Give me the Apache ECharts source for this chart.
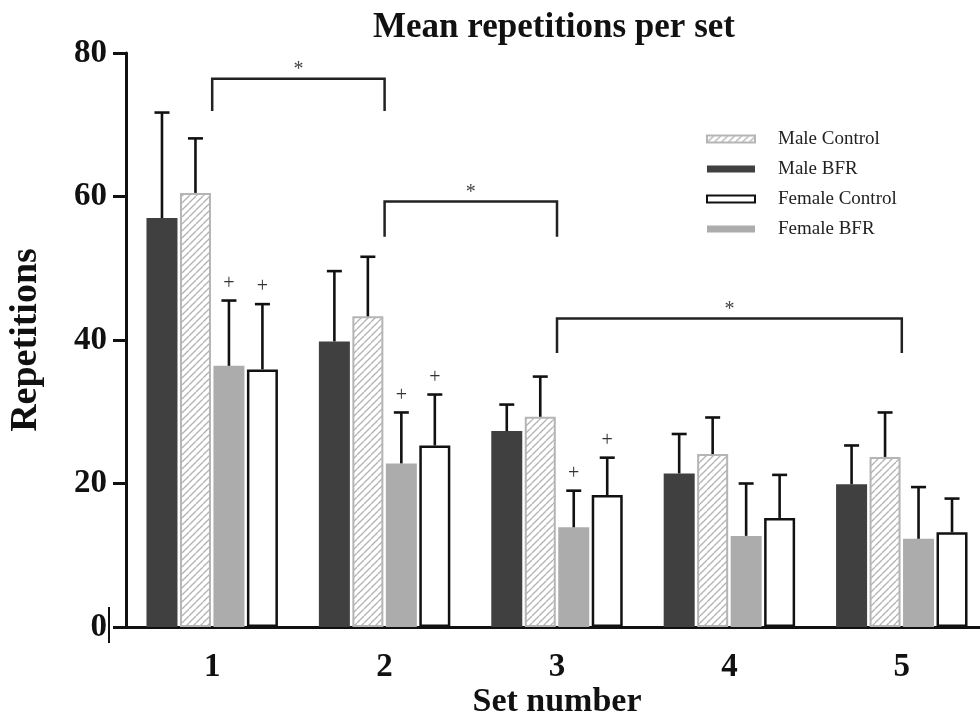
<!DOCTYPE html>
<html>
<head>
<meta charset="utf-8">
<title>Mean repetitions per set</title>
<script src="https://cdn.jsdelivr.net/npm/echarts/dist/echarts.min.js"></script>
<style>
  html, body { margin: 0; padding: 0; background: #fff; }
  #chart { width: 980px; height: 721px; }
</style>
</head>
<body>
<div id="chart"></div>
<script>
// 数据：每组的均值和标准差（只画向上的误差线）
const setNumbers = ['1', '2', '3', '4', '5']
const maleBFR = [57.0, 39.8, 27.3, 21.4, 19.9]
const maleBFRSd = [14.7, 9.8, 3.7, 5.5, 5.4]
const maleControl = [60.5, 43.3, 29.3, 24.1, 23.7]
const maleControlSd = [7.6, 8.3, 5.6, 5.1, 6.2]
const femaleBFR = [36.4, 22.8, 13.9, 12.7, 12.3]
const femaleBFRSd = [9.1, 7.1, 5.1, 7.3, 7.2]
const femaleControl = [35.9, 25.3, 18.4, 15.2, 13.2]
const femaleControlSd = [9.1, 7.1, 5.2, 6.0, 4.7]
// "+" 标记（1 = 有）
const femaleBFRPlus = [1, 1, 1, 0, 0]
const femaleControlPlus = [1, 1, 1, 0, 0]
// 显著性括号：[起始组, 结束组, 横线高度, 竖线下端]
const brackets = [
  [0, 1, 76.4, 71.9],
  [1, 2, 59.3, 54.4],
  [2, 4, 43.0, 38.2]
]
const yTicks = [0, 20, 40, 60, 80]

const SERIF = '"Liberation Serif", "Times New Roman", serif'
const BAR_W = 31
const BAR_PITCH = BAR_W * 1.08

// 斜线填充图案
function makeHatch() {
  const c = document.createElement('canvas')
  c.width = 7
  c.height = 7
  const ctx = c.getContext('2d')
  ctx.fillStyle = '#ffffff'
  ctx.fillRect(0, 0, 7, 7)
  ctx.strokeStyle = '#b3b3b3'
  ctx.lineWidth = 1.3
  for (const k of [-7, 0, 7]) {
    ctx.beginPath()
    ctx.moveTo(k, 7)
    ctx.lineTo(k + 7, 0)
    ctx.stroke()
  }
  return c
}

// 误差线数据：[组, 均值, 标准差, 柱序号, 是否有+]
const groups = [
  [maleBFR, maleBFRSd, null],
  [maleControl, maleControlSd, null],
  [femaleBFR, femaleBFRSd, femaleBFRPlus],
  [femaleControl, femaleControlSd, femaleControlPlus]
]
const errData = []
groups.forEach((g, slot) => {
  g[0].forEach((v, i) => {
    errData.push([i, v, g[1][i], slot, g[2] ? g[2][i] : 0])
  })
})

const chart = echarts.init(document.getElementById('chart'))

const option = {
  backgroundColor: '#ffffff',
  animation: false,
  title: {
    text: 'Mean repetitions per set',
    left: 549,
    top: 5,
    textAlign: 'center',
    textStyle: { fontFamily: SERIF, fontWeight: 'bold', fontSize: 35, color: '#111' }
  },
  legend: {
    data: ['Male Control', 'Male BFR', 'Female Control', 'Female BFR'],
    orient: 'vertical',
    left: 701,
    top: 124,
    itemWidth: 48,
    itemHeight: 7,
    itemGap: 10,
    icon: 'rect',
    textStyle: { fontFamily: SERIF, fontSize: 19, color: '#222', lineHeight: 20, padding: [0, 0, 0, 18] }
  },
  grid: {
    left: 126,
    top: 53,
    width: 862,
    bottom: 94,
    // v6 默认会把坐标轴文字挤进画布，这里关掉，按像素固定网格
    outerBoundsMode: 'none'
  },
  xAxis: {
    type: 'category',
    data: setNumbers,
    name: 'Set number',
    nameLocation: 'middle',
    nameGap: 58,
    nameMoveOverlap: false,
    nameTextStyle: { fontFamily: SERIF, fontWeight: 'bold', fontSize: 34, color: '#111' },
    axisLine: { lineStyle: { color: '#111', width: 3 } },
    axisTick: { alignWithLabel: true, length: 11, lineStyle: { color: '#111', width: 3 } },
    axisLabel: { margin: 24, fontFamily: SERIF, fontWeight: 'bold', fontSize: 33, color: '#111' }
  },
  yAxis: {
    type: 'value',
    min: yTicks[0],
    max: yTicks[yTicks.length - 1],
    interval: 20,
    name: 'Repetitions',
    nameLocation: 'middle',
    nameRotate: 90,
    nameGap: 81,
    nameMoveOverlap: false,
    nameTextStyle: { fontFamily: SERIF, fontWeight: 'bold', fontSize: 38, color: '#111' },
    axisLine: { show: true, lineStyle: { color: '#111', width: 3 } },
    axisTick: { show: true, length: 13, lineStyle: { color: '#111', width: 3 } },
    axisLabel: { margin: 19, fontFamily: SERIF, fontWeight: 'bold', fontSize: 33, color: '#111' },
    splitLine: { show: false }
  },
  graphic: [
    {
      type: 'line',
      shape: { x1: 109, y1: 607, x2: 109, y2: 643 },
      style: { stroke: '#111', lineWidth: 2 }
    }
  ],
  series: [
    {
      name: 'Male BFR',
      type: 'bar',
      data: maleBFR,
      barWidth: BAR_W,
      barGap: '8%',
      itemStyle: { color: '#404040' }
    },
    {
      name: 'Male Control',
      type: 'bar',
      data: maleControl,
      barWidth: BAR_W,
      barGap: '8%',
      itemStyle: {
        color: { image: makeHatch(), repeat: 'repeat' },
        borderColor: '#b5b5b5',
        borderWidth: 2
      }
    },
    {
      name: 'Female BFR',
      type: 'bar',
      data: femaleBFR,
      barWidth: BAR_W,
      barGap: '8%',
      itemStyle: { color: '#acacac' }
    },
    {
      name: 'Female Control',
      type: 'bar',
      data: femaleControl,
      barWidth: BAR_W,
      barGap: '8%',
      itemStyle: { color: '#ffffff', borderColor: '#111', borderWidth: 2.5 }
    },
    {
      // 误差线 + "+" 标记
      type: 'custom',
      z: 5,
      data: errData,
      renderItem(params, api) {
        const cat = api.value(0)
        const mean = api.value(1)
        const sd = api.value(2)
        const slot = api.value(3)
        const plus = api.value(4)
        const base = api.coord([cat, mean])
        const top = api.coord([cat, mean + sd])
        const x = base[0] + (slot - 1.5) * BAR_PITCH
        const stroke = { stroke: '#111', lineWidth: 2.6 }
        const children = [
          { type: 'line', shape: { x1: x, y1: base[1], x2: x, y2: top[1] }, style: stroke },
          { type: 'line', shape: { x1: x - 7.5, y1: top[1], x2: x + 7.5, y2: top[1] }, style: stroke }
        ]
        if (plus) {
          children.push({
            type: 'text',
            style: {
              text: '+', x: x, y: top[1] - 17,
              align: 'center', verticalAlign: 'middle',
              font: '20px ' + SERIF, fill: '#333'
            }
          })
        }
        return { type: 'group', children }
      }
    },
    {
      // 显著性括号和星号
      type: 'custom',
      z: 5,
      data: brackets,
      renderItem(params, api) {
        const p1 = api.coord([api.value(0), api.value(2)])
        const p2 = api.coord([api.value(1), api.value(2)])
        const yd = api.coord([api.value(0), api.value(3)])[1]
        return {
          type: 'group',
          children: [
            {
              type: 'polyline',
              shape: { points: [[p1[0], yd], [p1[0], p1[1]], [p2[0], p1[1]], [p2[0], yd]] },
              style: { stroke: '#222', lineWidth: 2.5, fill: null }
            },
            {
              type: 'text',
              style: {
                text: '*', x: (p1[0] + p2[0]) / 2, y: p1[1] - 9,
                align: 'center', verticalAlign: 'middle',
                font: '20px ' + SERIF, fill: '#444'
              }
            }
          ]
        }
      }
    }
  ]
}

chart.setOption(option)
</script>
</body>
</html>
